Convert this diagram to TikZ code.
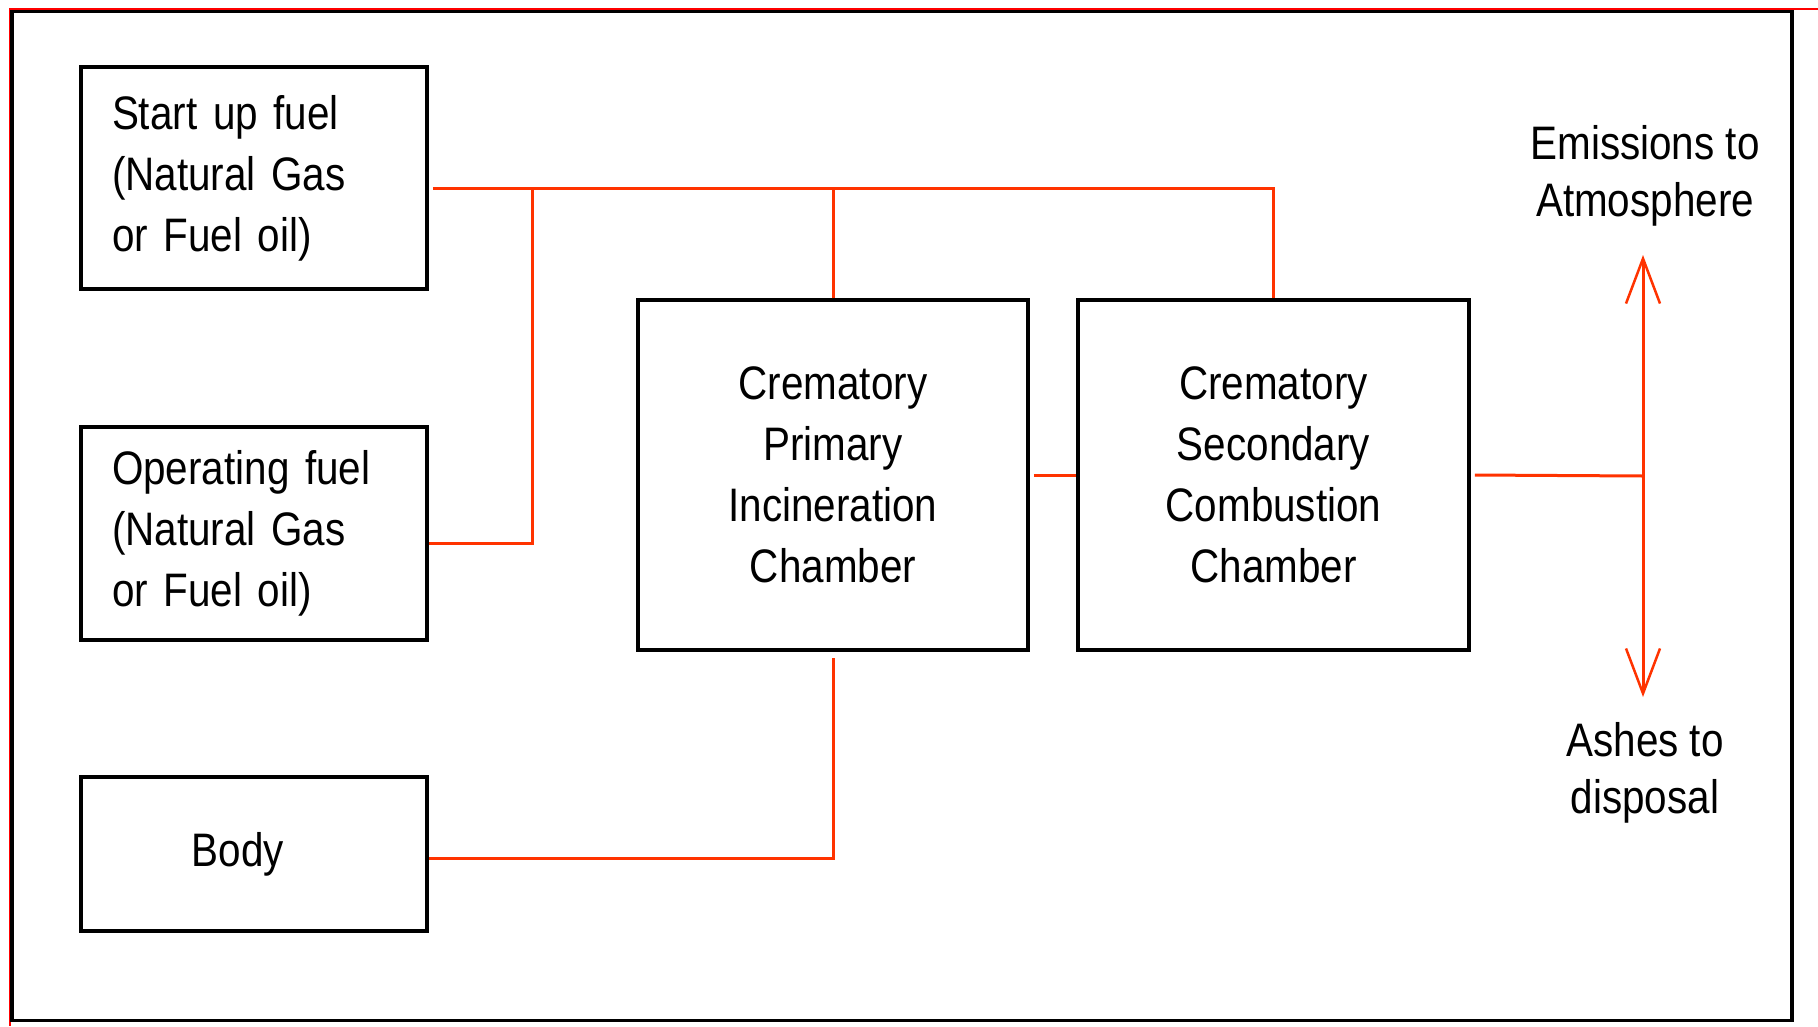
\documentclass[tikz,border=0pt]{standalone}
\usepackage{fontspec}
\setmainfont[FakeStretch=0.86]{Liberation Sans}
\usetikzlibrary{arrows.meta}
\definecolor{linkred}{RGB}{255,51,0}
\definecolor{framered}{RGB}{255,0,0}
\tikzset{
  box/.style={draw=black, line width=3.5pt, rectangle, inner sep=0pt, font=\fontsize{47}{61}\selectfont},
  lbox/.style={box, align=left, text width=300pt},
  cbox/.style={box, align=center},
  link/.style={draw=linkred, line width=3pt},
  tipped/.style={link, {Straight Barb[length=45pt,width=34pt,line width=2.5pt]}-{Straight Barb[length=45pt,width=34pt,line width=2.5pt]}},
  lbl/.style={align=center, inner sep=0pt, font=\fontsize{47}{57}\selectfont}
}
\begin{document}
\begin{tikzpicture}[x=1pt,y=-1pt]
\useasboundingbox (0,0) rectangle (1818,1026);
\fill[white] (0,0) rectangle (1818,1026);
% outer frame
\draw[framered, line width=2pt] (10,1026) -- (10,8.5) -- (1818,8.5);
\draw[black, line width=3.5pt] (12,11.5) rectangle (1792,1020.5);

% boxes
\node[lbox, minimum width=346pt, minimum height=222pt] (start) at (254,178)
  {\hspace*{8pt}Start up fuel\\\hspace*{8pt}(Natural Gas\\\hspace*{8pt}or Fuel oil)};
\node[lbox, minimum width=346pt, minimum height=213pt] (op) at (254,533.5)
  {\hspace*{8pt}Operating fuel\\\hspace*{8pt}(Natural Gas\\\hspace*{8pt}or Fuel oil)};
\node[cbox, minimum width=346pt, minimum height=154pt] (body) at (254,854) {\hspace*{-32pt}Body};
\node[cbox, minimum width=390pt, minimum height=350pt] (prim) at (833,475)
  {Crematory\\Primary\\Incineration\\Chamber};
\node[cbox, minimum width=391pt, minimum height=350pt] (sec) at (1273.5,475)
  {Crematory\\Secondary\\Combustion\\Chamber};

% labels
\node[lbl] (emis) at (1645,176) {Emissions to\\Atmosphere};
\node[lbl] (ash) at (1645,773) {Ashes to\\disposal};

% coordinates
\coordinate (bus) at (532,188);
\coordinate (junc) at (1643,476);
\coordinate (emtip) at (1643,255);
\coordinate (ashtip) at (1643,697);

% connectors
\draw[link] ([xshift=4pt,yshift=-10pt]start.east) -| (sec.north);
\draw[link] (prim.north) -- (prim.north |- bus);
\draw[link] (bus) |- ([yshift=-10pt]op.east);
\draw[link] (body.east) ++(0,4) -| ([yshift=-6pt]prim.south);
\draw[link] ([xshift=4pt]prim.east) -- (sec.west);
\draw[link] ([xshift=4pt]sec.east) -- (junc);
\draw[tipped] (emtip) -- (ashtip);
\end{tikzpicture}
\end{document}
